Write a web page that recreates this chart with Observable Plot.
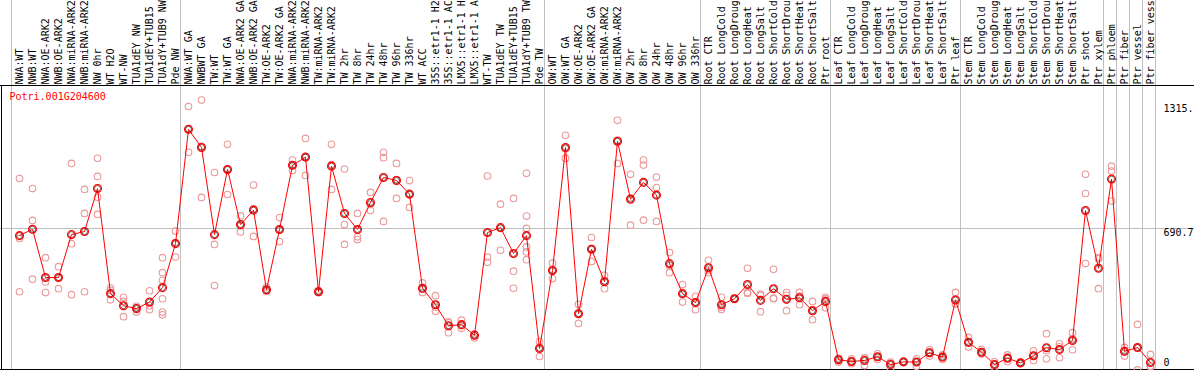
<!DOCTYPE html>
<html>
<head>
<meta charset="utf-8">
<script src="https://cdn.jsdelivr.net/npm/d3@7"></script>
<script src="https://cdn.jsdelivr.net/npm/@observablehq/plot@0.6"></script>
<style>
  html, body { margin: 0; padding: 0; background: white; }
  #chart svg { display: block; }
</style>
</head>
<body>
<div id="chart"></div>
<script>
const geneTitle = "Potri.001G204600";

// category labels as they appear in the chart header (long names are cut at the top edge)
const categories = [
  "NWA:WT","NWB:WT","NWA:OE-ARK2","NWB:OE-ARK2","NWA:miRNA-ARK2","NWB:miRNA-ARK2","NW 0hr","WT H2O","WT-NW",
  "TUA1dEY NW","TUA1dEY+TUB15","TUA1dY+TUB9 NW","Pde NW",
  "NWA:WT GA","NWBWT GA","TW:WT","TW:WT GA","NWA:OE-ARK2 GA","NWB:OE-ARK2 GA","TW:OE-ARK2","TW:OE-ARK2 GA",
  "NWA:miRNA-ARK2","NWB:miRNA-ARK2","TW:miRNA-ARK2","TW:miRNA-ARK2","TW 2hr","TW 8hr","TW 24hr","TW 48hr",
  "TW 96hr","TW 336hr","WT ACC","35S::etr1-1 H2","35S::etr1-1 AC","LMX5::etr1-1 H","LMX5::etr1-1 A","WT-TW",
  "TUA1dEY TW","TUA1dEY+TUB15","TUA1dY+TUB9 TW","Pde TW",
  "OW:WT","OW:WT GA","OW:OE-ARK2","OW:OE-ARK2 GA","OW:miRNA-ARK2","OW:miRNA-ARK2","OW 2hr","OW 8hr","OW 24hr",
  "OW 48hr","OW 96hr","OW 336hr",
  "Root CTR","Root LongCold","Root LongDroug","Root LongHeat","Root LongSalt","Root ShortCold","Root ShortDrou",
  "Root ShortHeat","Root ShortSalt","Ptr root",
  "Leaf CTR","Leaf LongCold","Leaf LongDroug","Leaf LongHeat","Leaf LongSalt","Leaf ShortCold","Leaf ShortDrou",
  "Leaf ShortHeat","Leaf ShortSalt","Ptr leaf",
  "Stem CTR","Stem LongCold","Stem LongDroug","Stem LongHeat","Stem LongSalt","Stem ShortCold","Stem ShortDrou",
  "Stem ShortHeat","Stem ShortSalt","Ptr shoot","Ptr xylem",
  "Ptr phloem","Ptr fiber","Ptr vessel","Ptr fiber vess"
];

// number of categories in each group (separated by vertical grid lines)
const groupSizes = [13, 28, 12, 10, 10, 11, 1, 1, 1, 1];

const meanValues = [
  656, 687, 452, 452, 661, 676, 885, 374, 315, 301, 333, 403, 617,
  1173, 1085, 661, 978, 710, 780, 393, 686, 998, 1038, 383, 994, 764, 686, 817, 939, 924, 858, 400, 320, 218, 223, 171, 671, 695, 569, 656, 107,
  486, 1085, 276, 590, 432, 1115, 833, 915, 853, 520, 374, 330,
  500, 320, 349, 418, 341, 398, 346, 354, 291, 336,
  52, 44, 49, 67, 29, 42, 41, 86, 65, 343,
  137, 89, 29, 60, 37, 72, 111, 102, 146, 778, 497,
  931, 93, 112, 39
];

const replicateValues = [
  [934, 642, 383], [885, 730, 444], [549, 431, 379], [505, 398, 452], [1007, 617, 369], [881, 764, 383],
  [1032, 944, 843, 759], [401, 390, 344], [356, 336, 262], [312, 284, 305], [388, 296, 315],
  [549, 476, 439, 349, 284, 271], [678, 552, 622],
  [1284, 1061, 1175], [1315.5, 842, 1090], [963, 613, 413], [1100, 856, 978], [752, 674, 704], [902, 652, 786],
  [406, 385, 388], [744, 627, 685], [1024, 973, 996], [1129, 949, 1037], [390, 379, 382], [1100, 881, 1002],
  [980, 710, 613], [764, 650, 637], [866, 778, 807], [1061, 1035, 725], [1007, 837, 929], [924, 793, 856],
  [426, 379, 395], [364, 288, 308], [232, 184, 237], [245, 205, 218], [158, 177, 178], [946, 552, 526],
  [809, 585, 692], [837, 483, 400], [959, 751, 691, 601, 577, 539], [141, 68, 112],
  [522, 447, 489], [1144, 1033, 1079], [322, 229, 278], [647, 530, 593], [463, 398, 436], [1217, 1007, 1119],
  [954, 707, 840], [1024, 999, 731], [941, 890, 725], [574, 476, 510], [418, 333, 371], [361, 296, 333],
  [536, 476, 489], [356, 297, 307], [348, 352, 348], [497, 375, 380], [372, 286, 365], [492, 349, 352],
  [379, 366, 291], [380, 320, 362], [336, 247, 289], [356, 305, 348],
  [60, 41, 55], [57, 33, 42], [62, 24, 60], [81, 54, 65], [41, 11, 36], [44, 41, 41], [57, 21, 44],
  [101, 70, 88], [76, 54, 65], [380, 323, 325],
  [161, 114, 135], [102, 80, 86], [29, 16, 42], [76, 44, 60], [41, 33, 37], [96, 49, 70], [179, 57, 96],
  [130, 62, 115], [184, 101, 154], [954, 861, 520], [544, 398, 549],
  [994, 970, 824], [112, 70, 96], [224, 3, 110], [78, 18, 21]
];

const yTickValues = [0, 690.7, 1315.5];
const yTickLabels = ["0", "690.7", "1315."];
const yAxisMax = 1381.4;

// ---- layout (not data) ----
const W = 1194, H = 370;
const step = 13;            // pixels per category
const firstCenter = 19;     // pixel of first category
const plotTop = 86;         // pixel of yAxisMax
const xMin = 1 - firstCenter / step;
const yMaxAll = yAxisMax * H / (H - plotTop);
const pxToK = (px) => xMin + px / step;

const idx = categories.map((d, i) => i + 1);
const means = meanValues.map((v, i) => ({k: i + 1, v}));
const reps = replicateValues.flatMap((arr, i) => arr.map(v => ({k: i + 1, v})));

// group boundaries (first index of each group, plus end)
const starts = [1];
groupSizes.forEach(s => starts.push(starts[starts.length - 1] + s));
const boundaries = starts.map(b => b - 8 / step);

const font = "'DejaVu Sans Mono', monospace";
const tickSpec = [
  {i: 0, dy: -7.9},
  {i: 1, dy: 4.3},
  {i: 2, dy: 8.3}
];

const plot = Plot.plot({
  width: W,
  height: H,
  margin: 0,
  x: {type: "linear", domain: [xMin, xMin + W / step], range: [0, W], axis: null},
  y: {type: "linear", domain: [0, yMaxAll], range: [H, 0], axis: null},
  style: {fontFamily: font, fontSize: "10px", background: "white", color: "black"},
  marks: [
    Plot.ruleX(boundaries, {stroke: "#c0c0c0", strokeWidth: 1}),
    Plot.ruleY([yTickValues[1]], {stroke: "#c0c0c0", strokeWidth: 1}),
    Plot.ruleY([yAxisMax, 0], {stroke: "black", strokeWidth: 1, dy: -1}),
    Plot.ruleX([pxToK(1)], {y1: 0, y2: yAxisMax, stroke: "black", strokeWidth: 1, dy: -1}),
    Plot.dot(reps, {x: "k", y: "v", r: 3.3, stroke: "#eb9a9a", strokeWidth: 1.1, fill: "none"}),
    Plot.line(means, {x: "k", y: "v", stroke: "red", strokeWidth: 1}),
    Plot.dot(means, {x: "k", y: "v", r: 3.0, stroke: "black", strokeWidth: 0.6, fill: "none"}),
    Plot.dot(means, {x: "k", y: "v", r: 3.9, stroke: "red", strokeWidth: 1.3, fill: "none"}),
    Plot.text(categories, {
      x: (d, i) => idx[i], frameAnchor: "top", dy: 84, rotate: -90,
      textAnchor: "start", lineAnchor: "middle", fill: "black", fontSize: 10
    }),
    Plot.text([geneTitle], {
      frameAnchor: "top-left", dx: 9, dy: 96, textAnchor: "start", lineAnchor: "middle",
      fill: "red", fontSize: 10
    }),
    ...tickSpec.map(t => Plot.text([yTickLabels[t.i]], {
      y: () => yTickValues[t.i], frameAnchor: "right", dx: -31, dy: t.dy,
      textAnchor: "start", lineAnchor: "middle", fill: "black", fontSize: 10
    }))
  ]
});

document.getElementById("chart").appendChild(plot);
</script>
</body>
</html>
